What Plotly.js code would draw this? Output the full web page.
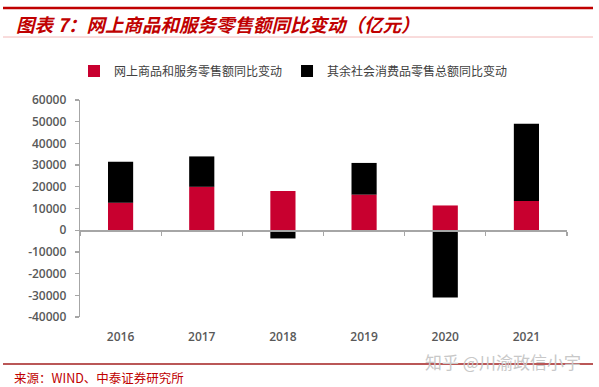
<!DOCTYPE html>
<html>
<head>
<meta charset="utf-8">
<script src="https://cdn.plot.ly/plotly-3.0.1.min.js"></script>
<style>
html,body{margin:0;padding:0;background:#fff;}
#chart{width:599px;height:387px;}
</style>
</head>
<body>
<div id="chart"></div>
<script>
const years = ['2016', '2017', '2018', '2019', '2020', '2021'];
const onlineChange = [12700, 20000, 18100, 16400, 11400, 13500];
const otherChange = [18800, 14000, -3800, 14600, -31000, 35500];
const seriesNames = ['网上商品和服务零售额同比变动', '其余社会消费品零售总额同比变动'];
const yTicks = [60000, 50000, 40000, 30000, 20000, 10000, 0, -10000, -20000, -30000, -40000];

const tickFont = {family: 'Open Sans, Noto Sans CJK SC, sans-serif', size: 12, color: '#595959', weight: 600};

const traces = [
  {type: 'bar', x: years, y: onlineChange, name: seriesNames[0],
   marker: {color: '#C8002F'}, width: 0.31, hoverinfo: 'x+y'},
  {type: 'bar', x: years, y: otherChange, name: seriesNames[1],
   marker: {color: '#000000'}, width: 0.31, hoverinfo: 'x+y'},
  {type: 'scatter', x: years, y: years.map(() => null), xaxis: 'x2', yaxis: 'y',
   showlegend: false, hoverinfo: 'skip', mode: 'lines'}
];

const layout = {
  width: 599, height: 387,
  margin: {l: 80, r: 32, t: 100, b: 70, pad: 0},
  paper_bgcolor: '#ffffff', plot_bgcolor: '#ffffff',
  barmode: 'relative',
  bargap: 0.69,
  showlegend: true,
  legend: {
    orientation: 'h', xref: 'container', yref: 'container',
    x: 0.5 - 6/599, xanchor: 'center', y: 1 - 71/387, yanchor: 'middle',
    font: {family: 'Noto Sans CJK SC, sans-serif', size: 12, color: '#404040'},
    itemwidth: 30, tracegroupgap: 0, traceorder: 'normal',
    bgcolor: 'rgba(0,0,0,0)'
  },
  xaxis: {
    type: 'category', categoryorder: 'array', categoryarray: years,
    showline: false, ticks: '', showgrid: false, zeroline: false,
    tickfont: tickFont, ticklabelstandoff: 11,
    fixedrange: true
  },
  xaxis2: {
    type: 'category', categoryorder: 'array', categoryarray: years,
    overlaying: 'x', matches: 'x', anchor: 'free', position: 0.4,
    showline: true, linecolor: '#A6A6A6', linewidth: 1.3,
    ticks: 'outside', tickson: 'boundaries', ticklen: 4, tickcolor: '#A6A6A6', tickwidth: 1.3,
    showticklabels: false, showgrid: false, zeroline: false
  },
  yaxis: {
    range: [-40000, 60000], tickvals: yTicks, ticktext: yTicks.map(String),
    showline: true, linecolor: '#A6A6A6', linewidth: 1.3,
    ticks: 'outside', ticklen: 4, tickcolor: '#A6A6A6', tickwidth: 1.3,
    ticklabelstandoff: 6,
    showgrid: false, zeroline: false,
    tickfont: tickFont, fixedrange: true
  },
  shapes: [
    {type: 'line', xref: 'paper', yref: 'paper', x0: -77/487, x1: 593/487 - 80/487,
     y0: 1 + (100 - 8)/217, y1: 1 + (100 - 8)/217, line: {color: '#C00000', width: 2.5}},
    {type: 'line', xref: 'paper', yref: 'paper', x0: -77/487, x1: 593/487 - 80/487,
     y0: 1 + (100 - 37)/217, y1: 1 + (100 - 37)/217, line: {color: '#F2B8B8', width: 1}},
    {type: 'line', xref: 'paper', yref: 'paper', x0: -77/487, x1: 593/487 - 80/487,
     y0: -(364 - 317)/217, y1: -(364 - 317)/217, line: {color: '#A31F1F', width: 1.3}}
  ],
  annotations: [
    {xref: 'paper', yref: 'paper', x: -66/487, y: 1 + (100 - 24)/217, xanchor: 'left', yanchor: 'middle',
     text: '<b><i>图表 7：网上商品和服务零售额同比变动（亿元）</i></b>', showarrow: false,
     font: {family: 'Noto Sans CJK SC, sans-serif', size: 18.5, color: '#C00000'}},
    {xref: 'paper', yref: 'paper', x: -68/487, y: -(377 - 317)/217, xanchor: 'left', yanchor: 'middle',
     text: '来源：WIND、中泰证券研究所', showarrow: false,
     font: {family: 'Noto Sans CJK SC, sans-serif', size: 12.5, color: '#C00000'}},
    {xref: 'paper', yref: 'paper', x: (503 - 80)/487, y: -(361 - 317)/217, xanchor: 'center', yanchor: 'middle',
     text: '知乎 @川渝政信小宇', showarrow: false,
     font: {family: 'Noto Sans CJK SC, sans-serif', size: 17, color: '#C8C8C8'}}
  ]
};

Plotly.newPlot('chart', traces, layout, {displayModeBar: false, staticPlot: true});
</script>
</body>
</html>
